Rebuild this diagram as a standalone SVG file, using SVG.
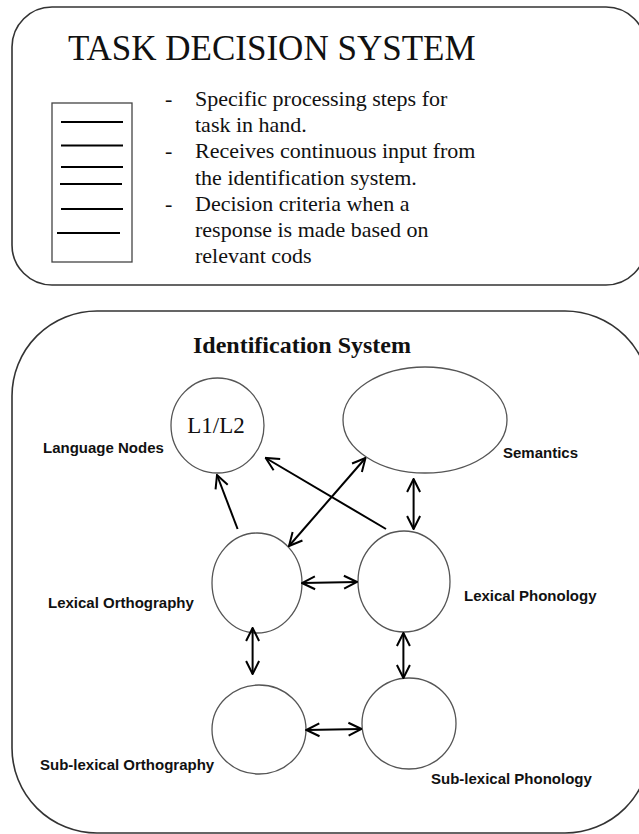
<svg xmlns="http://www.w3.org/2000/svg" width="639" height="834" viewBox="0 0 639 834">
<style>
.frame{fill:#fff;stroke:#333;stroke-width:1.6}
.node{fill:#fff;stroke:#555;stroke-width:1.3}
.title{font-family:"Liberation Serif","Times New Roman",serif;font-size:35px;fill:#111}
.body{font-family:"Liberation Serif","Times New Roman",serif;font-size:22px;fill:#111}
.lbl{font-family:"Liberation Sans",Arial,sans-serif;font-size:15px;font-weight:bold;fill:#111}
.head{font-family:"Liberation Serif","Times New Roman",serif;font-size:24px;font-weight:bold;fill:#111}
.rule{stroke:#000;stroke-width:2}
.conn{stroke:#000;stroke-width:2;fill:none}
</style>
<defs>
<marker id="ah" viewBox="0 0 16 16" refX="15" refY="8" markerWidth="16" markerHeight="16" orient="auto-start-reverse" markerUnits="userSpaceOnUse">
<path d="M2,1.5 L15,8 L2,14.5" fill="none" stroke="#000" stroke-width="2"/>
</marker>
</defs>
<rect width="639" height="834" fill="#fff"/>
<g id="task-decision-system">
<rect class="frame" x="12" y="7" width="634" height="278" rx="40" ry="40"/>
<text class="title" x="68" y="60">TASK DECISION SYSTEM</text>
<rect x="52" y="103" width="80" height="159" fill="#fff" stroke="#444" stroke-width="1.3"/>
<line class="rule" x1="61" y1="122" x2="123" y2="122"/>
<line class="rule" x1="61" y1="145.5" x2="123" y2="145.5"/>
<line class="rule" x1="61" y1="167" x2="123" y2="167"/>
<line class="rule" x1="60" y1="184" x2="122" y2="184"/>
<line class="rule" x1="61" y1="209" x2="123" y2="209"/>
<line class="rule" x1="57" y1="233" x2="120" y2="233"/>
<text class="body" x="165" y="106">-</text>
<text class="body" x="195" y="106">Specific processing steps for</text>
<text class="body" x="195" y="132">task in hand.</text>
<text class="body" x="165" y="158">-</text>
<text class="body" x="195" y="158">Receives continuous input from</text>
<text class="body" x="195" y="185">the identification system.</text>
<text class="body" x="165" y="211">-</text>
<text class="body" x="195" y="211">Decision criteria when a</text>
<text class="body" x="195" y="237">response is made based on</text>
<text class="body" x="195" y="263">relevant cods</text>
</g>
<g id="identification-system">
<rect class="frame" x="12" y="311" width="638" height="522" rx="85" ry="85"/>
<text class="head" x="193" y="353">Identification System</text>
</g>
<g id="language-nodes">
<ellipse class="node" cx="217.5" cy="425.5" rx="46.5" ry="47.5"/>
<text class="body" x="216" y="433" text-anchor="middle" style="font-size:23px">L1/L2</text>
<text class="lbl" x="43" y="453">Language Nodes</text>
</g>
<g id="semantics">
<ellipse class="node" cx="425" cy="420" rx="82" ry="53"/>
<text class="lbl" x="503" y="458">Semantics</text>
</g>
<g id="lexical-orthography">
<ellipse class="node" cx="257" cy="583" rx="45" ry="50"/>
<text class="lbl" x="48" y="608">Lexical Orthography</text>
</g>
<g id="lexical-phonology">
<ellipse class="node" cx="404" cy="581.5" rx="46" ry="50.5"/>
<text class="lbl" x="464" y="601">Lexical Phonology</text>
</g>
<g id="sublexical-orthography">
<ellipse class="node" cx="259" cy="729.5" rx="47" ry="44.5"/>
<text class="lbl" x="40" y="770">Sub-lexical Orthography</text>
</g>
<g id="sublexical-phonology">
<ellipse class="node" cx="409" cy="723.5" rx="47" ry="45.5"/>
<text class="lbl" x="431" y="784">Sub-lexical Phonology</text>
</g>
<g id="connectors">
<line class="conn" x1="237.6" y1="529" x2="217" y2="475" marker-end="url(#ah)"/>
<line class="conn" x1="386" y1="529" x2="265.7" y2="458" marker-end="url(#ah)"/>
<line class="conn" x1="365.5" y1="458" x2="289" y2="546" marker-start="url(#ah)" marker-end="url(#ah)"/>
<line class="conn" x1="413.6" y1="479" x2="413.6" y2="529" marker-start="url(#ah)" marker-end="url(#ah)"/>
<line class="conn" x1="302" y1="583" x2="357" y2="582" marker-start="url(#ah)" marker-end="url(#ah)"/>
<line class="conn" x1="252.6" y1="628" x2="252.6" y2="674" marker-start="url(#ah)" marker-end="url(#ah)"/>
<line class="conn" x1="403.4" y1="633" x2="403.4" y2="678" marker-start="url(#ah)" marker-end="url(#ah)"/>
<line class="conn" x1="306.4" y1="730" x2="361.5" y2="729" marker-start="url(#ah)" marker-end="url(#ah)"/>
</g>
</svg>
